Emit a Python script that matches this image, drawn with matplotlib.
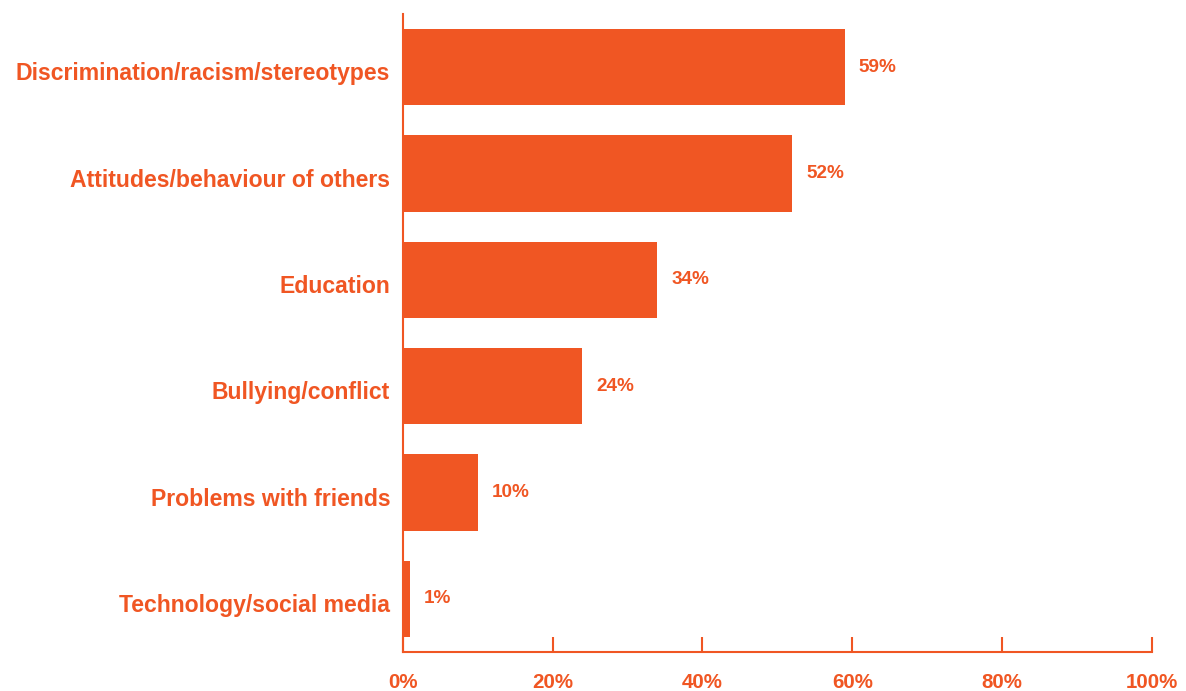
import matplotlib
matplotlib.use("Agg")
import matplotlib.pyplot as plt
from matplotlib.transforms import ScaledTranslation

# share of respondents naming each barrier
categories = [
    "Discrimination/racism/stereotypes",
    "Attitudes/behaviour of others",
    "Education",
    "Bullying/conflict",
    "Problems with friends",
    "Technology/social media",
]
values = [59, 52, 34, 24, 10, 1]
xticks = [0, 20, 40, 60, 80, 100]

orange = "#F05623"
plt.rcParams["font.family"] = ["Liberation Sans", "DejaVu Sans"]

fig = plt.figure(figsize=(11.86, 6.91), dpi=100)
ax = fig.add_axes([0.3395, 0.0564, 0.6318, 0.9233])

pos = list(range(len(categories)))
ax.barh(pos, values, height=0.72, color=orange)

for y, v in zip(pos, values):
    ax.annotate(f"{v}%", xy=(v, y), xytext=(10, 0), textcoords="offset points",
                ha="left", va="center", fontsize=13.6, fontweight="bold", color=orange)

ax.set_xlim(0, 100)
ax.set_ylim(len(categories) - 0.5, -0.5)
ax.set_yticks(pos)
ax.set_yticklabels(categories, fontsize=16.6, fontweight="bold", color=orange)
ax.set_xticks(xticks)
ax.set_xticklabels([f"{t}%" for t in xticks], fontsize=14.8, fontweight="bold", color=orange)

ax.tick_params(axis="y", length=0, pad=9)
ax.tick_params(axis="x", direction="in", length=11, width=1.5, color=orange, pad=15)

# category names sit a little below the bar middle
shift = ScaledTranslation(0, -3 / 72, fig.dpi_scale_trans)
for lab in ax.get_yticklabels():
    lab.set_transform(lab.get_transform() + shift)

for side in ["top", "right"]:
    ax.spines[side].set_visible(False)
for side in ["left", "bottom"]:
    ax.spines[side].set_color(orange)
    ax.spines[side].set_linewidth(1.5)

fig.savefig("out.png", dpi=100, facecolor="white")
